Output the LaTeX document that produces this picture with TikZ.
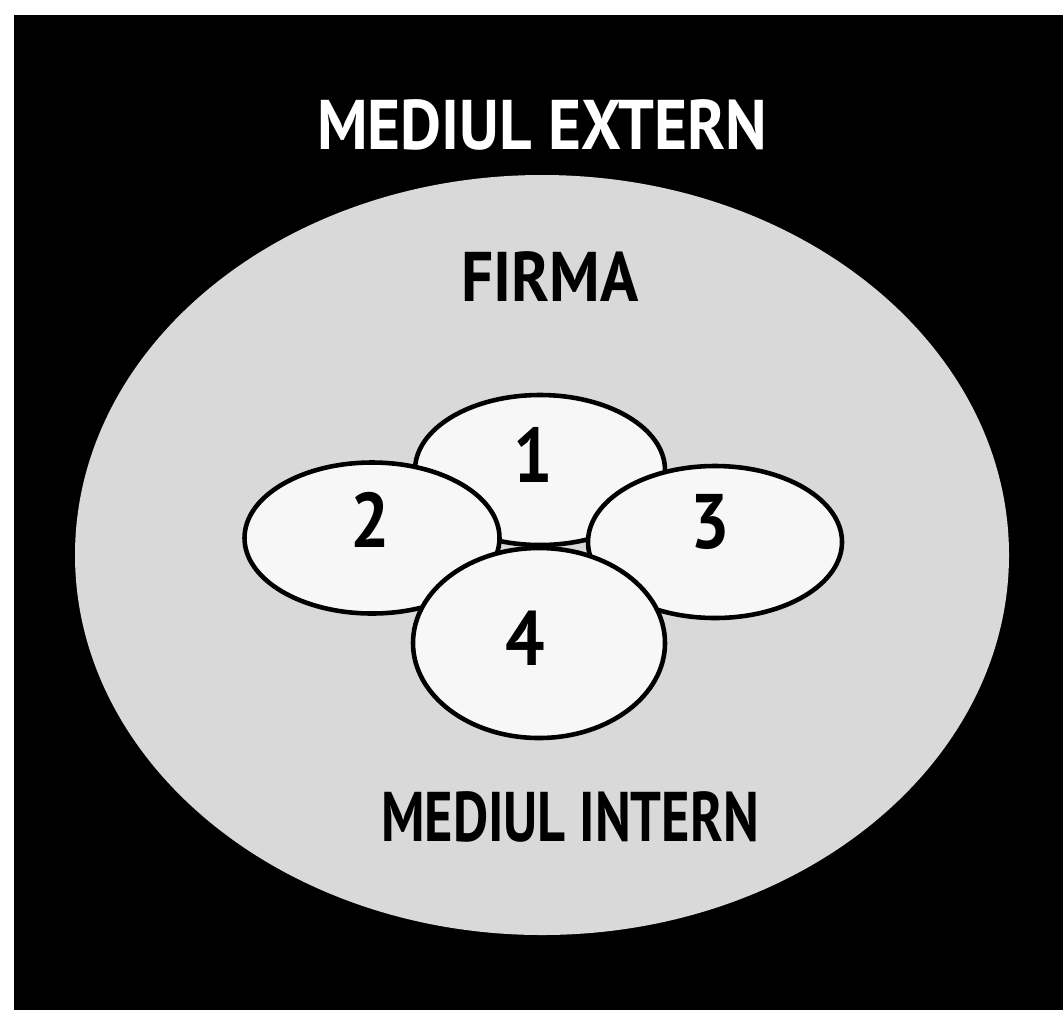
\documentclass[tikz,border=0pt]{standalone}
\usepackage{fontspec}
\setmainfont{PT Sans}
\usetikzlibrary{shapes.geometric}
\definecolor{firmagray}{HTML}{D9D9D9}
\definecolor{cellwhite}{HTML}{F7F7F7}
\begin{document}
\begin{tikzpicture}[line join=round,line cap=round,font=\bfseries,
	cell/.style={ellipse,draw,line width=1.3pt,fill=cellwhite,inner sep=0pt},
	title/.style={font=\fontsize{20}{24}\selectfont\bfseries,inner sep=0pt,xscale=.9}]
	\useasboundingbox (0,0) rectangle (10.63,10.09);
	\fill[black] (0.14,-0.2) rectangle (10.8,9.94);
	\node[ellipse,fill=firmagray,minimum width=9.34cm,minimum height=7.6cm] (firma) at (5.42,4.54) {};
	\path 
	(5.40,5.39) coordinate (c1)
	(3.72,4.71) coordinate (c2)
	(7.15,4.67) coordinate (c3)
	(5.39,3.66) coordinate (c4);
	\foreach \p/\w/\h in {1/2.50/1.50, 2/2.55/1.51, 3/2.54/1.52, 4/2.52/1.90}
	\node[cell,minimum width=\w cm,minimum height=\h cm] (e\p) at (c\p) {};
	\foreach \p/\s in {1/{-0.07,0.15}, 2/{-0.02,0.18}, 3/{-0.05,0.20}, 4/{-0.14,0.05}}
	\node[font=\fontsize{22}{26}\selectfont\bfseries,xscale=.9] (n\p) at ([shift={(\s)}]c\p) {\p};
	\node[title,white] (ext) at (5.42,8.84) {MEDIUL EXTERN};
	\node[title] (fir) at (5.50,7.32) {FIRMA};
	\node[title,xscale=.86] (int) at (5.70,1.92) {MEDIUL INTERN};
\end{tikzpicture}
\end{document}
